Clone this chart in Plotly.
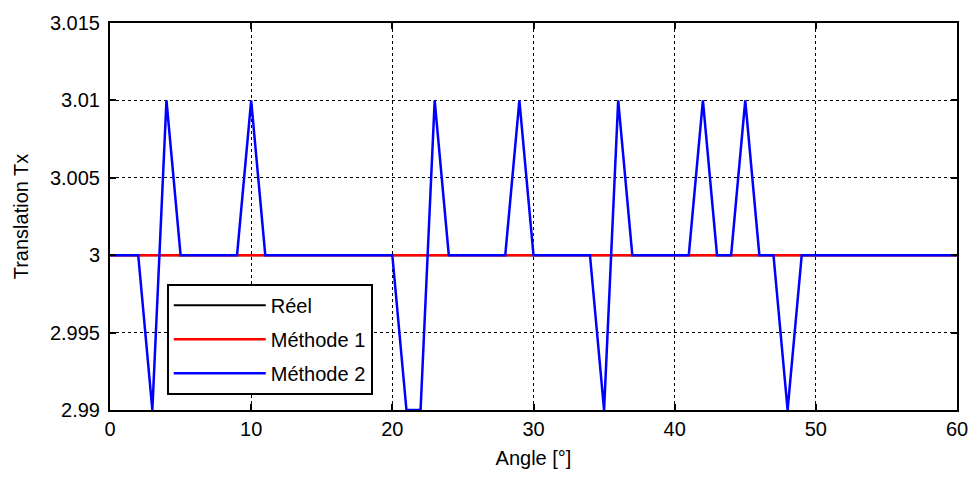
import plotly.graph_objects as go

# Angle samples (degrees) and translation estimates
angle = list(range(0, 61))
reel = [3.0] * 61
methode1 = [3.0] * 61
methode2 = [
    3.0, 3.0, 3.0, 2.99, 3.01, 3.0, 3.0, 3.0, 3.0, 3.0,   # 0-9
    3.01, 3.0, 3.0, 3.0, 3.0, 3.0, 3.0, 3.0, 3.0, 3.0,    # 10-19
    3.0, 2.99, 2.99, 3.01, 3.0, 3.0, 3.0, 3.0, 3.0, 3.01, # 20-29
    3.0, 3.0, 3.0, 3.0, 3.0, 2.99, 3.01, 3.0, 3.0, 3.0,   # 30-39
    3.0, 3.0, 3.01, 3.0, 3.0, 3.01, 3.0, 3.0, 2.99, 3.0,  # 40-49
    3.0, 3.0, 3.0, 3.0, 3.0, 3.0, 3.0, 3.0, 3.0, 3.0,     # 50-59
    3.0,                                                   # 60
]

x_ticks = [0, 10, 20, 30, 40, 50, 60]
y_ticks = [2.99, 2.995, 3.0, 3.005, 3.01, 3.015]
y_tick_text = ["2.99", "2.995", "3", "3.005", "3.01", "3.015"]

FONT = "Liberation Sans, Arial, sans-serif"
FS = 20

fig = go.Figure()
fig.add_trace(go.Scatter(x=angle, y=reel, mode="lines", name="Réel", legendgroup="a",
                         line=dict(color="black", width=2)))
fig.add_trace(go.Scatter(x=angle, y=methode1, mode="lines", name="Méthode 1", legendgroup="b",
                         line=dict(color="#ff0000", width=2.5)))
fig.add_trace(go.Scatter(x=angle, y=methode2, mode="lines", name="Méthode 2", legendgroup="c",
                         line=dict(color="#0000ff", width=2.5)))

axis_common = dict(
    showline=True, linecolor="black", linewidth=2, mirror="allticks",
    ticks="inside", ticklen=6, tickwidth=1.5, tickcolor="black",
    showgrid=True, gridcolor="black", gridwidth=1, griddash="dot",
    zeroline=False,
    tickfont=dict(family=FONT, size=FS, color="black"),
)

fig.update_layout(
    width=980, height=479,
    margin=dict(l=110, r=18, t=17, b=69),
    paper_bgcolor="white", plot_bgcolor="white",
    font=dict(family=FONT, size=FS, color="black"),
    xaxis=dict(range=[0, 60], tickvals=x_ticks, ticklabelstandoff=0,
               title=dict(text="Angle [°]", font=dict(family=FONT, size=FS), standoff=12),
               **axis_common),
    yaxis=dict(range=[2.99, 3.015], tickvals=y_ticks, ticktext=y_tick_text,
               ticklabelstandoff=4,
               title=dict(text="Translation Tx", font=dict(family=FONT, size=FS), standoff=16),
               **axis_common),
    legend=dict(x=0.067, y=0.326, xanchor="left", yanchor="top",
                bgcolor="white", bordercolor="black", borderwidth=2,
                font=dict(family=FONT, size=FS, color="black"),
                itemwidth=92, tracegroupgap=5, traceorder="grouped"),
    showlegend=True,
)

fig.write_html("out.html")
